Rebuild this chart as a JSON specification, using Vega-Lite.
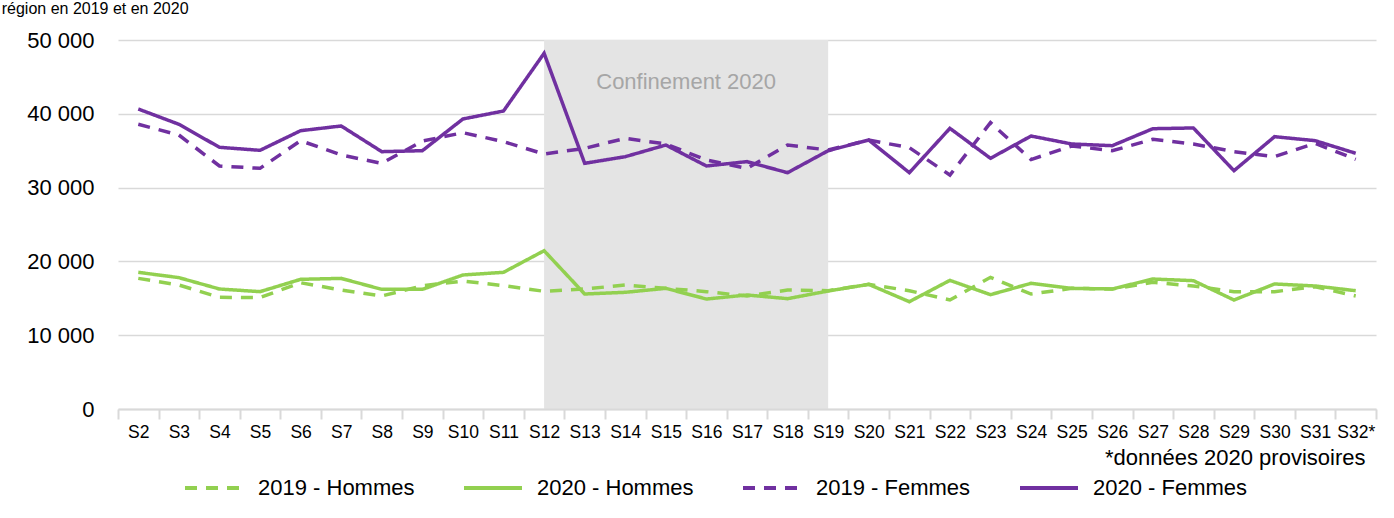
{
  "$schema": "https://vega.github.io/schema/vega-lite/v6.json",
  "width": 1258,
  "height": 369,
  "autosize": {"type": "none"},
  "padding": {"left": 118, "top": 40, "right": 18, "bottom": 109},
  "background": "white",
  "title": {
    "text": "région en 2019 et en 2020",
    "anchor": "start",
    "frame": "bounds",
    "baseline": "alphabetic",
    "offset": -1,
    "dx": -25,
    "fontSize": 16,
    "fontWeight": "normal",
    "font": "Liberation Sans",
    "color": "#000000"
  },
  "config": {
    "font": "Liberation Sans",
    "view": {"stroke": null}
  },
  "datasets": {
    "zone": [{"debut": "S12", "fin": "S19", "bas": 0, "haut": 50000}],
    "note": [{"s": "S15", "v": 44300, "texte": "Confinement 2020"}],
    "series": [
      {"s": "S2", "serie": "2019 - Hommes", "v": 17700},
      {"s": "S3", "serie": "2019 - Hommes", "v": 16800},
      {"s": "S4", "serie": "2019 - Hommes", "v": 15130},
      {"s": "S5", "serie": "2019 - Hommes", "v": 15100},
      {"s": "S6", "serie": "2019 - Hommes", "v": 17110},
      {"s": "S7", "serie": "2019 - Hommes", "v": 16120},
      {"s": "S8", "serie": "2019 - Hommes", "v": 15310},
      {"s": "S9", "serie": "2019 - Hommes", "v": 16700},
      {"s": "S10", "serie": "2019 - Hommes", "v": 17340},
      {"s": "S11", "serie": "2019 - Hommes", "v": 16710},
      {"s": "S12", "serie": "2019 - Hommes", "v": 15950},
      {"s": "S13", "serie": "2019 - Hommes", "v": 16260},
      {"s": "S14", "serie": "2019 - Hommes", "v": 16800},
      {"s": "S15", "serie": "2019 - Hommes", "v": 16350},
      {"s": "S16", "serie": "2019 - Hommes", "v": 15900},
      {"s": "S17", "serie": "2019 - Hommes", "v": 15310},
      {"s": "S18", "serie": "2019 - Hommes", "v": 16120},
      {"s": "S19", "serie": "2019 - Hommes", "v": 16030},
      {"s": "S20", "serie": "2019 - Hommes", "v": 16890},
      {"s": "S21", "serie": "2019 - Hommes", "v": 16030},
      {"s": "S22", "serie": "2019 - Hommes", "v": 14770},
      {"s": "S23", "serie": "2019 - Hommes", "v": 17840},
      {"s": "S24", "serie": "2019 - Hommes", "v": 15580},
      {"s": "S25", "serie": "2019 - Hommes", "v": 16350},
      {"s": "S26", "serie": "2019 - Hommes", "v": 16260},
      {"s": "S27", "serie": "2019 - Hommes", "v": 17160},
      {"s": "S28", "serie": "2019 - Hommes", "v": 16670},
      {"s": "S29", "serie": "2019 - Hommes", "v": 15900},
      {"s": "S30", "serie": "2019 - Hommes", "v": 15900},
      {"s": "S31", "serie": "2019 - Hommes", "v": 16570},
      {"s": "S32*", "serie": "2019 - Hommes", "v": 15310},
      {"s": "S2", "serie": "2020 - Hommes", "v": 18520},
      {"s": "S3", "serie": "2020 - Hommes", "v": 17800},
      {"s": "S4", "serie": "2020 - Hommes", "v": 16260},
      {"s": "S5", "serie": "2020 - Hommes", "v": 15900},
      {"s": "S6", "serie": "2020 - Hommes", "v": 17570},
      {"s": "S7", "serie": "2020 - Hommes", "v": 17700},
      {"s": "S8", "serie": "2020 - Hommes", "v": 16210},
      {"s": "S9", "serie": "2020 - Hommes", "v": 16210},
      {"s": "S10", "serie": "2020 - Hommes", "v": 18160},
      {"s": "S11", "serie": "2020 - Hommes", "v": 18520},
      {"s": "S12", "serie": "2020 - Hommes", "v": 21450},
      {"s": "S13", "serie": "2020 - Hommes", "v": 15580},
      {"s": "S14", "serie": "2020 - Hommes", "v": 15810},
      {"s": "S15", "serie": "2020 - Hommes", "v": 16350},
      {"s": "S16", "serie": "2020 - Hommes", "v": 14900},
      {"s": "S17", "serie": "2020 - Hommes", "v": 15450},
      {"s": "S18", "serie": "2020 - Hommes", "v": 14950},
      {"s": "S19", "serie": "2020 - Hommes", "v": 15990},
      {"s": "S20", "serie": "2020 - Hommes", "v": 16890},
      {"s": "S21", "serie": "2020 - Hommes", "v": 14540},
      {"s": "S22", "serie": "2020 - Hommes", "v": 17430},
      {"s": "S23", "serie": "2020 - Hommes", "v": 15490},
      {"s": "S24", "serie": "2020 - Hommes", "v": 17030},
      {"s": "S25", "serie": "2020 - Hommes", "v": 16350},
      {"s": "S26", "serie": "2020 - Hommes", "v": 16260},
      {"s": "S27", "serie": "2020 - Hommes", "v": 17610},
      {"s": "S28", "serie": "2020 - Hommes", "v": 17390},
      {"s": "S29", "serie": "2020 - Hommes", "v": 14770},
      {"s": "S30", "serie": "2020 - Hommes", "v": 16940},
      {"s": "S31", "serie": "2020 - Hommes", "v": 16670},
      {"s": "S32*", "serie": "2020 - Hommes", "v": 16030},
      {"s": "S2", "serie": "2019 - Femmes", "v": 38580},
      {"s": "S3", "serie": "2019 - Femmes", "v": 37130},
      {"s": "S4", "serie": "2019 - Femmes", "v": 32930},
      {"s": "S5", "serie": "2019 - Femmes", "v": 32610},
      {"s": "S6", "serie": "2019 - Femmes", "v": 36360},
      {"s": "S7", "serie": "2019 - Femmes", "v": 34420},
      {"s": "S8", "serie": "2019 - Femmes", "v": 33290},
      {"s": "S9", "serie": "2019 - Femmes", "v": 36300},
      {"s": "S10", "serie": "2019 - Femmes", "v": 37440},
      {"s": "S11", "serie": "2019 - Femmes", "v": 36230},
      {"s": "S12", "serie": "2019 - Femmes", "v": 34550},
      {"s": "S13", "serie": "2019 - Femmes", "v": 35320},
      {"s": "S14", "serie": "2019 - Femmes", "v": 36680},
      {"s": "S15", "serie": "2019 - Femmes", "v": 35910},
      {"s": "S16", "serie": "2019 - Femmes", "v": 33740},
      {"s": "S17", "serie": "2019 - Femmes", "v": 32610},
      {"s": "S18", "serie": "2019 - Femmes", "v": 35770},
      {"s": "S19", "serie": "2019 - Femmes", "v": 35090},
      {"s": "S20", "serie": "2019 - Femmes", "v": 36450},
      {"s": "S21", "serie": "2019 - Femmes", "v": 35410},
      {"s": "S22", "serie": "2019 - Femmes", "v": 31700},
      {"s": "S23", "serie": "2019 - Femmes", "v": 38800},
      {"s": "S24", "serie": "2019 - Femmes", "v": 33800},
      {"s": "S25", "serie": "2019 - Femmes", "v": 35640},
      {"s": "S26", "serie": "2019 - Femmes", "v": 35000},
      {"s": "S27", "serie": "2019 - Femmes", "v": 36540},
      {"s": "S28", "serie": "2019 - Femmes", "v": 35910},
      {"s": "S29", "serie": "2019 - Femmes", "v": 34870},
      {"s": "S30", "serie": "2019 - Femmes", "v": 34190},
      {"s": "S31", "serie": "2019 - Femmes", "v": 36000},
      {"s": "S32*", "serie": "2019 - Femmes", "v": 33830},
      {"s": "S2", "serie": "2020 - Femmes", "v": 40650},
      {"s": "S3", "serie": "2020 - Femmes", "v": 38580},
      {"s": "S4", "serie": "2020 - Femmes", "v": 35460},
      {"s": "S5", "serie": "2020 - Femmes", "v": 35050},
      {"s": "S6", "serie": "2020 - Femmes", "v": 37710},
      {"s": "S7", "serie": "2020 - Femmes", "v": 38350},
      {"s": "S8", "serie": "2020 - Femmes", "v": 34870},
      {"s": "S9", "serie": "2020 - Femmes", "v": 35000},
      {"s": "S10", "serie": "2020 - Femmes", "v": 39300},
      {"s": "S11", "serie": "2020 - Femmes", "v": 40380},
      {"s": "S12", "serie": "2020 - Femmes", "v": 48200},
      {"s": "S13", "serie": "2020 - Femmes", "v": 33290},
      {"s": "S14", "serie": "2020 - Femmes", "v": 34190},
      {"s": "S15", "serie": "2020 - Femmes", "v": 35770},
      {"s": "S16", "serie": "2020 - Femmes", "v": 32930},
      {"s": "S17", "serie": "2020 - Femmes", "v": 33520},
      {"s": "S18", "serie": "2020 - Femmes", "v": 32020},
      {"s": "S19", "serie": "2020 - Femmes", "v": 35000},
      {"s": "S20", "serie": "2020 - Femmes", "v": 36450},
      {"s": "S21", "serie": "2020 - Femmes", "v": 32020},
      {"s": "S22", "serie": "2020 - Femmes", "v": 38030},
      {"s": "S23", "serie": "2020 - Femmes", "v": 33970},
      {"s": "S24", "serie": "2020 - Femmes", "v": 36990},
      {"s": "S25", "serie": "2020 - Femmes", "v": 35910},
      {"s": "S26", "serie": "2020 - Femmes", "v": 35680},
      {"s": "S27", "serie": "2020 - Femmes", "v": 37980},
      {"s": "S28", "serie": "2020 - Femmes", "v": 38080},
      {"s": "S29", "serie": "2020 - Femmes", "v": 32290},
      {"s": "S30", "serie": "2020 - Femmes", "v": 36900},
      {"s": "S31", "serie": "2020 - Femmes", "v": 36360},
      {"s": "S32*", "serie": "2020 - Femmes", "v": 34650}
    ]
  },
  "encoding": {
    "x": {
      "field": "s",
      "type": "nominal",
      "sort": null,
      "scale": {
        "type": "band",
        "domain": ["S2","S3","S4","S5","S6","S7","S8","S9","S10","S11","S12","S13","S14","S15","S16","S17","S18","S19","S20","S21","S22","S23","S24","S25","S26","S27","S28","S29","S30","S31","S32*"],
        "paddingInner": 0,
        "paddingOuter": 0
      },
      "axis": {
        "title": "*données 2020 provisoires",
        "titleFontSize": 22,
        "titleFontWeight": "normal",
        "titleColor": "#000000",
        "titleAlign": "right",
        "titleAnchor": "end",
        "titleBaseline": "alphabetic",
        "titleX": 1247,
        "titleY": 55,
        "labelAngle": 0,
        "labelFontSize": 17.5,
        "labelColor": "#000000",
        "labelPadding": 4,
        "tickBand": "extent",
        "tickSize": 10,
        "tickColor": "#d9d9d9",
        "tickWidth": 2,
        "domainColor": "#d9d9d9",
        "domainWidth": 2,
        "grid": false
      }
    }
  },
  "layer": [
    {
      "data": {"name": "zone"},
      "mark": {"type": "rect", "color": "#e4e4e4"},
      "encoding": {
        "x": {"field": "debut", "type": "nominal", "bandPosition": 0.5},
        "x2": {"field": "fin"},
        "y": {"field": "bas", "type": "quantitative"},
        "y2": {"field": "haut"}
      }
    },
    {
      "data": {"name": "note"},
      "mark": {"type": "text", "fontSize": 22, "color": "#a6a6a6", "align": "center", "baseline": "middle"},
      "encoding": {
        "x": {"field": "s", "type": "nominal", "bandPosition": 1},
        "y": {"field": "v", "type": "quantitative"},
        "text": {"field": "texte"}
      }
    },
    {
      "data": {"name": "series"},
      "mark": {"type": "line", "strokeWidth": 3.5, "strokeCap": "butt", "strokeJoin": "miter"},
      "encoding": {
        "y": {
          "field": "v",
          "type": "quantitative",
          "scale": {"domain": [0, 50000]},
          "axis": {
            "title": null,
            "values": [0, 10000, 20000, 30000, 40000, 50000],
            "labelExpr": "replace(format(datum.value, ','), ',', ' ')",
            "labelFontSize": 22,
            "labelColor": "#000000",
            "labelPadding": 24,
            "ticks": false,
            "domain": false,
            "grid": true,
            "gridColor": "#d9d9d9",
            "gridWidth": 1.5
          }
        },
        "color": {
          "field": "serie",
          "type": "nominal",
          "scale": {
            "domain": ["2019 - Hommes", "2020 - Hommes", "2019 - Femmes", "2020 - Femmes"],
            "range": ["#92d050", "#92d050", "#7030a0", "#7030a0"]
          },
          "legend": {
            "title": null,
            "orient": "none",
            "direction": "horizontal",
            "columns": 4,
            "legendX": 65,
            "legendY": 417,
            "symbolType": "stroke",
            "symbolSize": 3364,
            "symbolStrokeWidth": 4,
            "labelFontSize": 22,
            "labelColor": "#000000",
            "labelOffset": 13,
            "columnPadding": 41,
            "labelLimit": 300
          }
        },
        "strokeDash": {
          "field": "serie",
          "type": "nominal",
          "scale": {
            "domain": ["2019 - Hommes", "2020 - Hommes", "2019 - Femmes", "2020 - Femmes"],
            "range": [[12, 9], [1, 0], [12, 9], [1, 0]]
          }
        }
      }
    }
  ]
}
